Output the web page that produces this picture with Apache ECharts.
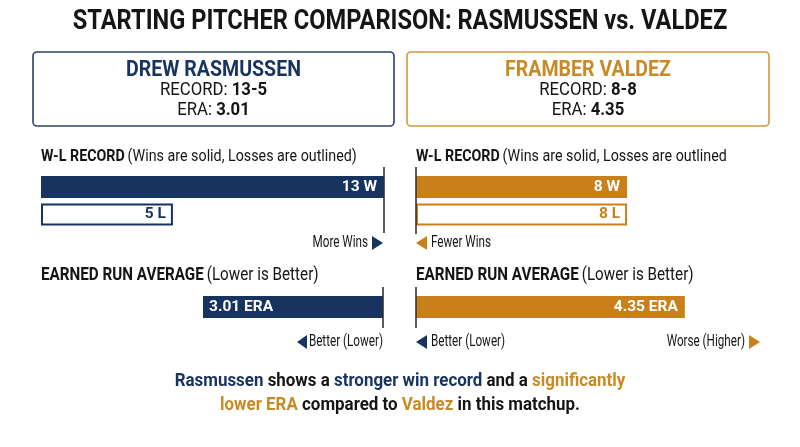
<!DOCTYPE html>
<html><head><meta charset="utf-8">
<script src="https://cdn.jsdelivr.net/npm/echarts@6/dist/echarts.min.js"></script>
<style>html,body{margin:0;padding:0;background:#fff}#c{width:800px;height:447px}</style>
</head><body><div id="c"></div>
<script>
// ---- data ----
const pitchers = ['DREW RASMUSSEN', 'FRAMBER VALDEZ'];
const shortNames = ['Rasmussen', 'Valdez'];
const records = ['13-5', '8-8'];
const wins = [13, 8];
const losses = [5, 8];
const era = [3.01, 4.35];
const recordCats = ['W', 'L'];
const eraCats = ['ERA'];

const NAVY = '#17335f', ORANGE = '#c9801a', ORANGE_T = '#c98a25', INK = '#151515';
const BOX_NAVY = '#2a4166', BOX_OR = '#cf9a3c';
const F = 'Roboto, "Noto Sans", sans-serif';
const CX = 0.84; // condensed look
const AX = 0.73; // annotation condensing

const chart = echarts.init(document.getElementById('c'), null, {renderer: 'canvas'});

function T(x, y, text, size, weight, fill, align, sx) {
  return {type: 'text', x: x, y: y, scaleX: sx || CX, z: 10,
    style: {text: text, font: (weight || 'normal') + ' ' + size + 'px ' + F, fill: fill || INK,
      align: align || 'left', verticalAlign: 'middle'}};
}
function R(x, y, text, rich, align, sx) {
  return {type: 'text', x: x, y: y, scaleX: sx || CX, z: 10,
    style: {text: text, rich: rich, align: align || 'left', verticalAlign: 'middle'}};
}
function tri(pts, color) {
  return {type: 'polygon', z: 10, shape: {points: pts}, style: {fill: color}};
}

function wlData(i, color) {
  return recordCats.map((c, k) => k === 0
    ? {name: c, value: wins[i], itemStyle: {color: color}, label: {color: '#fff'}}
    : {name: c, value: losses[i], itemStyle: {color: '#fff', borderColor: color, borderWidth: 2}, label: {color: color}});
}
const WL_MAX = 13, ERA_MAX = 5;
const lbl = (pos) => ({show: true, position: pos, distance: 7, fontFamily: F, fontWeight: 'bold', fontSize: 15.5,
  formatter: p => p.value + ' ' + p.name});

const option = {
  animation: false,
  backgroundColor: '#fff',
  grid: [
    {left: 41, width: 343, top: 173.25, height: 55},
    {left: 416, width: 343, top: 173.25, height: 55},
    {left: 84, width: 299, top: 296, height: 22},
    {left: 416, width: 309, top: 296, height: 22}
  ],
  xAxis: [
    {gridIndex: 0, type: 'value', min: 0, max: WL_MAX, show: false},
    {gridIndex: 1, type: 'value', min: 0, max: WL_MAX, show: false},
    {gridIndex: 2, type: 'value', min: 0, max: ERA_MAX, inverse: true, show: false},
    {gridIndex: 3, type: 'value', min: 0, max: ERA_MAX, show: false}
  ],
  yAxis: [
    {gridIndex: 0, type: 'category', data: recordCats, inverse: true, show: false},
    {gridIndex: 1, type: 'category', data: recordCats, inverse: true, show: false},
    {gridIndex: 2, type: 'category', data: eraCats, show: false},
    {gridIndex: 3, type: 'category', data: eraCats, show: false}
  ],
  series: [
    {type: 'bar', xAxisIndex: 0, yAxisIndex: 0, barWidth: 22, data: wlData(0, NAVY), label: lbl('insideRight')},
    {type: 'bar', xAxisIndex: 1, yAxisIndex: 1, barWidth: 22, data: wlData(1, ORANGE), label: lbl('insideRight')},
    {type: 'bar', xAxisIndex: 2, yAxisIndex: 2, barWidth: 22,
      data: [{name: 'ERA', value: era[0], itemStyle: {color: NAVY}}],
      label: Object.assign(lbl('insideLeft'), {color: '#fff', distance: 6, formatter: p => p.value.toFixed(2) + ' ' + p.name})},
    {type: 'bar', xAxisIndex: 3, yAxisIndex: 3, barWidth: 22,
      data: [{name: 'ERA', value: era[1], itemStyle: {color: ORANGE}}],
      label: Object.assign(lbl('insideRight'), {color: '#fff', distance: 7, formatter: p => p.value.toFixed(2) + ' ' + p.name})}
  ]
};
chart.setOption(option);

// axis base lines derived from the axes
const xL = chart.convertToPixel({xAxisIndex: 0}, WL_MAX);
const xR = chart.convertToPixel({xAxisIndex: 1}, 0);
const xLe = chart.convertToPixel({xAxisIndex: 2}, 0);
const xRe = chart.convertToPixel({xAxisIndex: 3}, 0);
function vline(x, y1, y2) {
  return {type: 'line', z: 11, shape: {x1: x, y1: y1, x2: x, y2: y2}, style: {stroke: '#333', lineWidth: 1.6}};
}

const hdrRich = {b: {font: 'bold 17.5px ' + F, fill: INK}, r: {font: '17.5px ' + F, fill: INK}};
const hdrRich2 = {b: {font: 'bold 17px ' + F, fill: INK}, r: {font: '17px ' + F, fill: INK}};
const boxRich = () => ({r: {font: '18px ' + F, fill: INK}, b: {font: 'bold 18px ' + F, fill: INK}});
const footRich = {
  n: {font: 'bold 18.5px ' + F, fill: NAVY},
  o: {font: 'bold 18.5px ' + F, fill: ORANGE_T},
  k: {font: 'bold 18.5px ' + F, fill: INK}
};

chart.setOption({graphic: [
  T(400, 22, 'STARTING PITCHER COMPARISON: RASMUSSEN vs. VALDEZ', 27, 'bold', INK, 'center', 0.875),
  {type: 'rect', shape: {x: 33, y: 52, width: 361, height: 74, r: 4}, style: {fill: '#fff', stroke: BOX_NAVY, lineWidth: 1.6}},
  {type: 'rect', shape: {x: 407, y: 52, width: 362, height: 74, r: 4}, style: {fill: '#fff', stroke: BOX_OR, lineWidth: 1.6}},
  T(213.5, 70, pitchers[0], 22.5, 'bold', NAVY, 'center', 0.87),
  T(588, 70, pitchers[1], 22.5, 'bold', ORANGE_T, 'center', 0.87),
  R(213.5, 90, '{r|RECORD: }{b|' + records[0] + '}', boxRich(), 'center', 0.93),
  R(588, 90, '{r|RECORD: }{b|' + records[1] + '}', boxRich(), 'center', 0.93),
  R(213.5, 110, '{r|ERA: }{b|' + era[0].toFixed(2) + '}', boxRich(), 'center', 0.93),
  R(588, 110, '{r|ERA: }{b|' + era[1].toFixed(2) + '}', boxRich(), 'center', 0.93),
  R(41, 157, '{b|W-L RECORD} {r|(Wins are solid, Losses are outlined)}', hdrRich2),
  R(416, 157, '{b|W-L RECORD} {r|(Wins are solid, Losses are outlined}', hdrRich2),
  R(41, 276, '{b|EARNED RUN AVERAGE} {r|(Lower is Better)}', hdrRich, 'left', 0.87),
  R(416, 276, '{b|EARNED RUN AVERAGE} {r|(Lower is Better)}', hdrRich, 'left', 0.87),
  vline(xL, 167, 233), vline(xR, 167, 234), vline(xLe, 287, 328), vline(xRe, 287, 328),
  T(368, 243, 'More Wins', 16, 'normal', INK, 'right', AX),
  tri([[372, 236], [383, 243], [372, 250]], NAVY),
  tri([[427, 236], [416, 243], [427, 250]], ORANGE),
  T(431, 243, 'Fewer Wins', 16, 'normal', INK, 'left', AX),
  T(383, 342, 'Better (Lower)', 16, 'normal', INK, 'right', AX),
  tri([[307, 335], [297, 342], [307, 349]], NAVY),
  tri([[427, 335], [416, 342], [427, 349]], NAVY),
  T(431, 342, 'Better (Lower)', 16, 'normal', INK, 'left', AX),
  T(745, 342, 'Worse (Higher)', 16, 'normal', INK, 'right', AX),
  tri([[749, 335], [760, 342], [749, 349]], ORANGE),
  R(400, 381, '{n|' + shortNames[0] + '}{k| shows a }{n|stronger win record}{k| and a }{o|significantly}', footRich, 'center', 0.915),
  R(400, 405, '{o|lower ERA}{k| compared to }{o|' + shortNames[1] + '}{k| in this matchup.}', footRich, 'center', 0.915)
]});
</script>
</body></html>
